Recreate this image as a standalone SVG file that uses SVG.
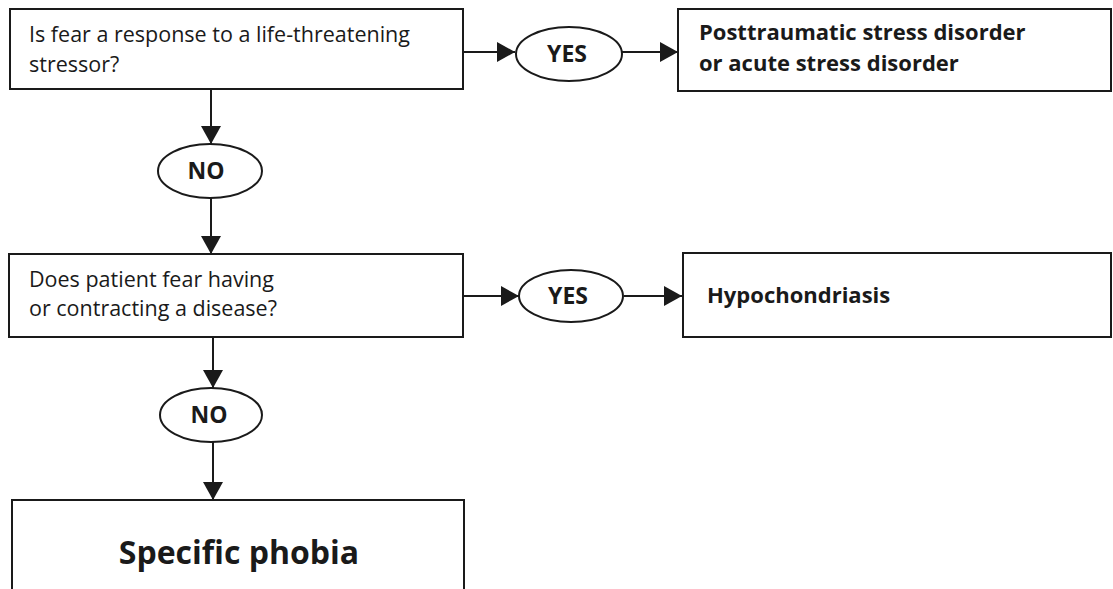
<svg xmlns="http://www.w3.org/2000/svg" width="1113" height="589" viewBox="0 0 1113 589">
<style>
.box{fill:#fff;stroke:#1a1a1a;stroke-width:2}
.ell{fill:#fff;stroke:#1a1a1a;stroke-width:2}
.t{font-family:"Open Sans","Noto Sans",sans-serif;font-size:21.5px;fill:#1a1a1a}
.b{font-family:"Open Sans","Noto Sans",sans-serif;font-size:22px;font-weight:bold;fill:#1a1a1a}
.lab{font-family:"Open Sans","Noto Sans",sans-serif;font-size:23px;font-weight:bold;fill:#1a1a1a}
.big{font-family:"Open Sans","Noto Sans",sans-serif;font-size:32px;font-weight:bold;fill:#1a1a1a}
.c{stroke:#1a1a1a;stroke-width:2;fill:none;marker-end:url(#ah)}
</style>
<defs>
<marker id="ah" viewBox="0 0 18 20" refX="18" refY="10" markerWidth="18" markerHeight="20" markerUnits="userSpaceOnUse" orient="auto">
<path d="M0,0 L18,10 L0,20 Z" fill="#1a1a1a"/>
</marker>
</defs>
<rect width="1113" height="589" fill="#fff"/>
<g id="connectors">
<line class="c" x1="463" y1="52" x2="515" y2="52"/>
<line class="c" x1="622" y1="52" x2="678" y2="52"/>
<line class="c" x1="211" y1="89" x2="211" y2="144"/>
<line class="c" x1="211" y1="198" x2="211" y2="254"/>
<line class="c" x1="463" y1="296" x2="519" y2="296"/>
<line class="c" x1="624" y1="296" x2="682" y2="296"/>
<line class="c" x1="213" y1="337" x2="213" y2="388"/>
<line class="c" x1="213" y1="442" x2="213" y2="500"/>
</g>
<g id="q1">
<rect class="box" x="10" y="9" width="453" height="80"/>
<text class="t" x="29" y="42">Is fear a response to a life-threatening</text>
<text class="t" x="29" y="72">stressor?</text>
</g>
<g id="yes1">
<ellipse class="ell" cx="569" cy="54" rx="53" ry="27"/>
<text class="lab" x="567" y="62" text-anchor="middle">YES</text>
</g>
<g id="ptsd">
<rect class="box" x="678" y="9" width="433" height="82"/>
<text class="b" x="699" y="40">Posttraumatic stress disorder</text>
<text class="b" x="699" y="71">or acute stress disorder</text>
</g>
<g id="no1">
<ellipse class="ell" cx="210" cy="171" rx="52" ry="27"/>
<text class="lab" x="206" y="179" text-anchor="middle">NO</text>
</g>
<g id="q2">
<rect class="box" x="9" y="254" width="454" height="83"/>
<text class="t" x="29" y="287">Does patient fear having</text>
<text class="t" x="29" y="316">or contracting a disease?</text>
</g>
<g id="yes2">
<ellipse class="ell" cx="571" cy="296" rx="52" ry="26"/>
<text class="lab" x="568" y="304" text-anchor="middle">YES</text>
</g>
<g id="hypo">
<rect class="box" x="683" y="253" width="428" height="84"/>
<text class="b" x="707" y="303">Hypochondriasis</text>
</g>
<g id="no2">
<ellipse class="ell" cx="211" cy="415" rx="51" ry="27"/>
<text class="lab" x="209" y="423" text-anchor="middle">NO</text>
</g>
<g id="phobia">
<rect class="box" x="12" y="500" width="452" height="110"/>
<text class="big" x="239" y="564" text-anchor="middle">Specific phobia</text>
</g>
</svg>
